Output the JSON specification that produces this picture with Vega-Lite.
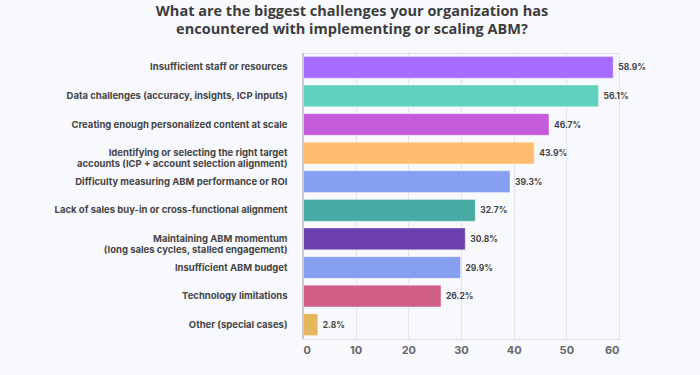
{
  "$schema": "https://vega.github.io/schema/vega-lite/v6.json",
  "width": 316,
  "height": 286,
  "autosize": {"type": "none"},
  "padding": {"left": 303, "top": 53, "right": 81, "bottom": 36},
  "background": "#f8f9fd",
  "title": {
    "text": "What are the biggest challenges your organization has",
    "subtitle": "encountered with implementing or scaling ABM?",
    "font": "Open Sans",
    "fontSize": 14.5,
    "fontWeight": "bold",
    "color": "#3d3d3d",
    "subtitleFont": "Open Sans",
    "subtitleFontSize": 14.5,
    "subtitleFontWeight": "bold",
    "subtitleColor": "#3d3d3d",
    "subtitlePadding": 3,
    "anchor": "middle",
    "frame": "group",
    "dx": -109,
    "offset": 15
  },
  "data": {
    "values": [
      {"challenge": "Insufficient staff or resources", "pct": 58.9, "label": "58.9%", "color": "#a66cff"},
      {"challenge": "Data challenges (accuracy, insights, ICP inputs)", "pct": 56.1, "label": "56.1%", "color": "#5fd3c0"},
      {"challenge": "Creating enough personalized content at scale", "pct": 46.7, "label": "46.7%", "color": "#c35bdb"},
      {"challenge": "Identifying or selecting the right target|accounts (ICP + account selection alignment)", "pct": 43.9, "label": "43.9%", "color": "#ffbb70"},
      {"challenge": "Difficulty measuring ABM performance or ROI", "pct": 39.3, "label": "39.3%", "color": "#869ff0"},
      {"challenge": "Lack of sales buy-in or cross-functional alignment", "pct": 32.7, "label": "32.7%", "color": "#47aaa3"},
      {"challenge": "Maintaining ABM momentum|(long sales cycles, stalled engagement)", "pct": 30.8, "label": "30.8%", "color": "#6b3fad"},
      {"challenge": "Insufficient ABM budget", "pct": 29.9, "label": "29.9%", "color": "#869ff0"},
      {"challenge": "Technology limitations", "pct": 26.2, "label": "26.2%", "color": "#d15e87"},
      {"challenge": "Other (special cases)", "pct": 2.8, "label": "2.8%", "color": "#e6b65a"}
    ]
  },
  "encoding": {
    "y": {
      "field": "challenge",
      "type": "nominal",
      "sort": null,
      "scale": {"paddingInner": 0.24, "paddingOuter": 0.12},
      "axis": {
        "title": null,
        "domain": false,
        "ticks": false,
        "labelPadding": 16,
        "labelFont": "Inter",
        "labelFontSize": 9.5,
        "labelFontWeight": "bold",
        "labelColor": "#454545",
        "labelLineHeight": 11,
        "labelLimit": 300,
        "labelExpr": "split(datum.label, '|')"
      }
    },
    "x": {
      "field": "pct",
      "type": "quantitative",
      "scale": {"domain": [0, 60]},
      "axis": {
        "title": null,
        "values": [0, 10, 20, 30, 40, 50, 60],
        "domain": false,
        "ticks": false,
        "labelPadding": 5,
        "labelFont": "Inter",
        "labelFontSize": 11,
        "labelFontWeight": "bold",
        "labelColor": "#666666",
        "gridColor": "#e3e4e8",
        "gridWidth": 1
      }
    }
  },
  "layer": [
    {
      "mark": {"type": "bar", "strokeWidth": 1, "stroke": "#ffffff", "strokeOpacity": 0.35},
      "encoding": {
        "color": {"field": "color", "type": "nominal", "scale": null}
      }
    },
    {
      "mark": {"type": "text", "align": "left", "dx": 5, "font": "Inter", "fontSize": 8.5, "fontWeight": "bold", "color": "#444444"},
      "encoding": {
        "text": {"field": "label", "type": "nominal"}
      }
    },
    {
      "mark": {"type": "rule", "color": "#c8c9ce", "strokeWidth": 2},
      "encoding": {"x": {"datum": 0}, "y": {"value": 0}, "y2": {"value": 286}}
    }
  ]
}
